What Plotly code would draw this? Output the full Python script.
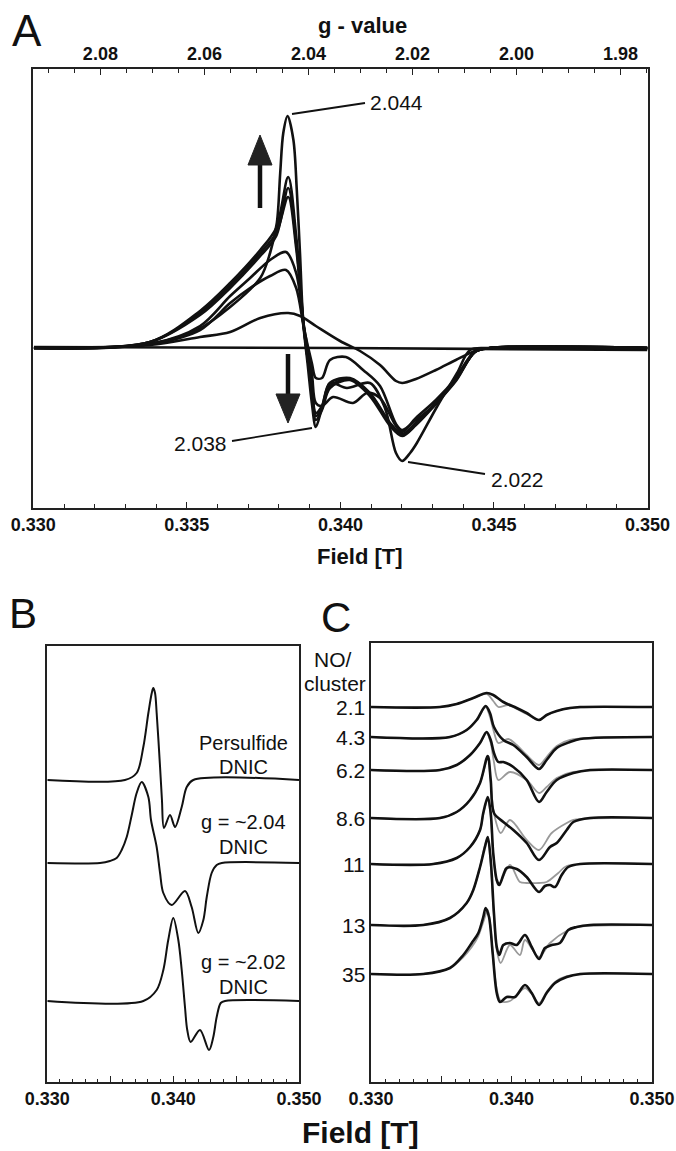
import plotly.graph_objects as go

W, H = 676, 1151
FONT = "Liberation Sans, Arial, Helvetica, sans-serif"

# ---------------- Panel A: spectra (field in T, intensity in arbitrary units) -------------
A_FLAT_FIELD = [0.33002, 0.34000, 0.35000]
A_FLAT_INT = [1, 0, -2]

A_WEAK_FIELD = [0.33002, 0.33380, 0.33543, 0.33641, 0.33739, 0.33830, 0.33869, 0.33920, 0.33999,
                0.34064, 0.34129, 0.34181, 0.34201, 0.34246, 0.34311, 0.34376, 0.34438, 0.34487, 0.35000]
A_WEAK_INT = [0, 3, 11, 16, 30, 35, 32, 22, 7, -3, -17, -33, -35, -31, -22, -12, -3, 0, 0]

A_LOW_FIELD = [0.33002, 0.33380, 0.33543, 0.33641, 0.33706, 0.33771, 0.33823, 0.33856, 0.33881, 0.33907,
               0.33920, 0.33940, 0.33966, 0.34018, 0.34074, 0.34129, 0.34181, 0.34201, 0.34246, 0.34311,
               0.34376, 0.34438, 0.34487, 0.35000]
A_LOW_INT = [0, 4, 18, 45, 60, 72, 78, 60, 20, -15, -30, -30, -12, -9, -22, -38, -76, -82, -72, -56,
             -30, -3, 0, 0]

A_LOW2_FIELD = [0.33002, 0.33380, 0.33543, 0.33641, 0.33706, 0.33771, 0.33823, 0.33856, 0.33881, 0.33907,
                0.33920, 0.33940, 0.33976, 0.34041, 0.34087, 0.34129, 0.34181, 0.34201, 0.34246, 0.34311,
                0.34376, 0.34438, 0.34487, 0.35000]
A_LOW2_INT = [0, 4, 22, 52, 70, 88, 96, 75, 22, -25, -55, -58, -49, -55, -45, -50, -78, -84, -70, -52,
              -30, -4, 0, 0]

A_MID_FIELD = [0.33002, 0.33380, 0.33543, 0.33641, 0.33739, 0.33791, 0.33830, 0.33856, 0.33881, 0.33907,
               0.33920, 0.33940, 0.33966, 0.34031, 0.34096, 0.34162, 0.34201, 0.34246, 0.34311, 0.34376,
               0.34438, 0.34487, 0.35000]
A_MID1_INT = [0, 6, 35, 62, 95, 115, 151, 100, 20, -40, -65, -58, -35, -30, -45, -75, -86, -75, -55, -32, -4, 0, 0]
A_MID2_INT = [0, 6, 37, 65, 98, 120, 171, 112, 22, -42, -72, -62, -40, -32, -48, -78, -88, -77, -56, -33, -4, 0, 0]
A_MID3_INT = [0, 6, 33, 60, 92, 112, 160, 105, 20, -40, -68, -60, -38, -31, -46, -76, -87, -76, -55, -32, -4, 0, 0]

A_TALL_FIELD = [0.33002, 0.33380, 0.33533, 0.33641, 0.33739, 0.33771, 0.33793, 0.33804, 0.33814, 0.33828,
                0.33847, 0.33858, 0.33869, 0.33879, 0.33894, 0.33907, 0.33920, 0.33940, 0.33966, 0.34021,
                0.34096, 0.34145, 0.34181, 0.34201, 0.34227, 0.34249, 0.34314, 0.34380, 0.34422, 0.34487,
                0.35000]
A_TALL_INT = [0, 4, 18, 41, 70, 95, 125, 175, 215, 232, 208, 158, 91, 25, -18, -55, -79, -60, -35, -40,
              -35, -60, -105, -113, -105, -95, -59, -25, -2, 0, 0]

G_TICKS = [2.08, 2.06, 2.04, 2.02, 2.00, 1.98]
A_PEAK_LABELS = ["2.044", "2.038", "2.022"]

# ---------------- Panel B: simulated DNIC spectra -------------
B_NAMES = [["Persulfide", "DNIC"], ["g = ~2.04", "DNIC"], ["g = ~2.02", "DNIC"]]
B_OFFSETS = [302, 219, 81]
B_PERS_FIELD = [0.330, 0.33617, 0.33710, 0.33763, 0.33803, 0.33830, 0.33842, 0.33856, 0.33869, 0.33896,
                0.33911, 0.33927, 0.33975, 0.34015, 0.34068, 0.34108, 0.34160, 0.350]
B_PERS_INT = [0, 0, 7, 33, 67, 87, 92, 87, 67, 13, -20, -48, -35, -47, -27, -7, 0, 0]
B_G204_FIELD = [0.330, 0.33419, 0.33498, 0.33551, 0.33591, 0.33631, 0.33671, 0.33710, 0.33750, 0.33803,
                0.33824, 0.33869, 0.33896, 0.33922, 0.33988, 0.34094, 0.34147, 0.34200, 0.34240, 0.34267,
                0.34306, 0.34346, 0.34386, 0.350]
B_G204_INT = [0, 0, 2, 5, 13, 26, 48, 70, 81, 66, 43, 16, -10, -30, -42, -28, -44, -70, -57, -34, -10, -2, 0, 0]
B_G202_FIELD = [0.330, 0.33763, 0.33869, 0.33922, 0.33961, 0.34001, 0.34041, 0.34068, 0.34094, 0.34112,
                0.34139, 0.34213, 0.34285, 0.34319, 0.34346, 0.34378, 0.34412, 0.350]
B_G202_INT = [0, 0, 11, 31, 61, 83, 61, 31, -6, -29, -41, -29, -49, -36, -16, -2, 0, 0]

# ---------------- Panel C: NO/cluster titration (black = data, grey = simulation) -------------
C_LABELS = ["2.1", "4.3", "6.2", "8.6", "11", "13", "35"]
C_OFFSETS = [375, 345, 312, 264, 218, 157, 108]

C21_FIELD = [0.330, 0.33491, 0.33610, 0.33728, 0.33823, 0.33870, 0.33942, 0.34037, 0.34108, 0.34196,
             0.34250, 0.34322, 0.34416, 0.34488, 0.350]
C21_INT = [0, 0, 3, 9, 14, 12, 5, -1, -6, -13, -8, -4, -1, 0, 0]
C21_SIM_FIELD = [0.330, 0.33491, 0.33610, 0.33728, 0.33823, 0.33870, 0.33906, 0.33977, 0.34037, 0.34108,
                 0.34196, 0.34250, 0.34322, 0.34416, 0.350]
C21_SIM_INT = [0, 0, 3, 9, 13, 6, 0, 2, -2, -7, -13, -8, -4, -1, 0]

C43_FIELD = [0.330, 0.33562, 0.33681, 0.33752, 0.33816, 0.33847, 0.33875, 0.33942, 0.34013, 0.34108,
             0.34196, 0.34250, 0.34322, 0.34416, 0.34488, 0.350]
C43_INT = [0, 0, 7, 17, 31, 24, 10, -3, -8, -20, -32, -23, -11, -5, -2, 0]
C43_SIM_FIELD = [0.330, 0.33562, 0.33681, 0.33752, 0.33816, 0.33847, 0.33875, 0.33906, 0.33977, 0.34037,
                 0.34108, 0.34196, 0.34250, 0.34322, 0.34416, 0.350]
C43_SIM_INT = [0, 0, 7, 17, 30, 20, 5, -6, -2, -8, -18, -28, -20, -9, -3, 0]

C62_FIELD = [0.330, 0.33491, 0.33610, 0.33705, 0.33776, 0.33823, 0.33852, 0.33875, 0.33906, 0.33942,
             0.34013, 0.34108, 0.34196, 0.34250, 0.34322, 0.34440, 0.34559, 0.350]
C62_INT = [0, 0, 5, 15, 27, 38, 30, 17, 8, 8, 3, -10, -32, -22, -10, -3, 0, 0]
C62_SIM_FIELD = [0.330, 0.33491, 0.33610, 0.33705, 0.33776, 0.33823, 0.33852, 0.33875, 0.33906, 0.33989,
                 0.34108, 0.34196, 0.34250, 0.34322, 0.34440, 0.350]
C62_SIM_INT = [0, 0, 5, 15, 27, 37, 27, 8, -10, -2, -10, -23, -17, -8, -2, 0]

C86_FIELD = [0.330, 0.33491, 0.33610, 0.33705, 0.33776, 0.33831, 0.33852, 0.33875, 0.33942, 0.34013,
             0.34108, 0.34196, 0.34274, 0.34322, 0.34393, 0.34440, 0.34559, 0.350]
C86_INT = [0, 0, 6, 18, 35, 62, 38, 5, -4, -12, -25, -42, -29, -25, -12, -4, 0, 0]
C86_SIM_FIELD = [0.330, 0.33491, 0.33610, 0.33705, 0.33776, 0.33831, 0.33852, 0.33875, 0.33923, 0.33989,
                 0.34108, 0.34196, 0.34286, 0.34393, 0.34440, 0.350]
C86_SIM_INT = [0, 0, 6, 18, 35, 60, 36, 5, -15, -2, -22, -32, -15, -5, -2, 0]

C11_FIELD = [0.330, 0.33443, 0.33610, 0.33705, 0.33776, 0.33799, 0.33831, 0.33852, 0.33870, 0.33895,
             0.33913, 0.33942, 0.33966, 0.34037, 0.34108, 0.34196, 0.34238, 0.34274, 0.34310, 0.34357,
             0.34404, 0.34488, 0.350]
C11_INT = [0, 0, 6, 17, 34, 51, 67, 51, 11, -16, -21, -11, -4, -5, -13, -28, -22, -21, -23, -11, -3, 0, 0]
C11_SIM_FIELD = [0.330, 0.33443, 0.33610, 0.33705, 0.33776, 0.33799, 0.33831, 0.33852, 0.33870, 0.33906,
                 0.33989, 0.34060, 0.34108, 0.34196, 0.34250, 0.34333, 0.34393, 0.350]
C11_SIM_INT = [0, 0, 6, 17, 34, 50, 64, 48, 10, -21, -1, -18, -19, -19, -18, -9, -2, 0]

C13_FIELD = [0.330, 0.33372, 0.33562, 0.33681, 0.33728, 0.33776, 0.33811, 0.33831, 0.33852, 0.33875,
             0.33895, 0.33913, 0.33942, 0.33989, 0.34037, 0.34096, 0.34144, 0.34196, 0.34238, 0.34286,
             0.34345, 0.34404, 0.34464, 0.34559, 0.350]
C13_INT = [0, 0, 7, 22, 35, 58, 78, 88, 65, 12, -22, -30, -20, -18, -20, -10, -22, -34, -23, -20, -18, -5,
           -2, 0, 0]
C13_SIM_FIELD = [0.330, 0.33372, 0.33562, 0.33681, 0.33728, 0.33776, 0.33811, 0.33831, 0.33852, 0.33875,
                 0.33895, 0.33923, 0.33989, 0.34060, 0.34096, 0.34196, 0.34274, 0.34404, 0.34464, 0.350]
C13_SIM_INT = [0, 0, 7, 22, 35, 58, 80, 86, 60, 8, -25, -38, -20, -30, -15, -32, -18, -5, -2, 0]

C35_FIELD = [0.330, 0.33372, 0.33562, 0.33657, 0.33717, 0.33764, 0.33799, 0.33816, 0.33840, 0.33866,
             0.33895, 0.33918, 0.33966, 0.34025, 0.34096, 0.34144, 0.34196, 0.34250, 0.34310, 0.34393,
             0.34488, 0.350]
C35_INT = [0, 0, 6, 19, 31, 41, 57, 66, 57, 21, -19, -28, -23, -23, -11, -19, -31, -19, -9, -3, 0, 0]
C35_SIM_FIELD = [0.330, 0.33372, 0.33562, 0.33657, 0.33717, 0.33764, 0.33799, 0.33831, 0.33852, 0.33870,
                 0.33895, 0.33923, 0.33989, 0.34096, 0.34144, 0.34196, 0.34250, 0.34310, 0.34393, 0.350]
C35_SIM_INT = [0, 0, 6, 17, 27, 38, 52, 64, 45, 15, -15, -27, -27, -14, -20, -29, -18, -8, -2, 0]

# ---------------------------------------------------------------------------------------
def px(x):
    return x / W


def py(y):
    return 1 - y / H


fig = go.Figure()
SPL = dict(shape="spline", smoothing=0.9)

a_sets = [(A_FLAT_FIELD, A_FLAT_INT), (A_WEAK_FIELD, A_WEAK_INT), (A_LOW_FIELD, A_LOW_INT),
          (A_LOW2_FIELD, A_LOW2_INT), (A_MID_FIELD, A_MID1_INT), (A_MID_FIELD, A_MID2_INT),
          (A_MID_FIELD, A_MID3_INT), (A_TALL_FIELD, A_TALL_INT)]
for fx, iy in a_sets:
    fig.add_trace(go.Scatter(x=fx, y=iy, mode="lines", xaxis="x", yaxis="y",
                             line=dict(color="#111", width=2.6, **SPL), hoverinfo="skip"))
# invisible carrier for the g-value axis
fig.add_trace(go.Scatter(x=[G_TICKS[0]], y=[0], mode="markers", xaxis="x2", yaxis="y",
                         marker=dict(opacity=0), hoverinfo="skip"))

b_sets = [(B_PERS_FIELD, B_PERS_INT), (B_G204_FIELD, B_G204_INT), (B_G202_FIELD, B_G202_INT)]
for (fx, iy), off in zip(b_sets, B_OFFSETS):
    fig.add_trace(go.Scatter(x=fx, y=[v + off for v in iy], mode="lines", xaxis="x3", yaxis="y3",
                             line=dict(color="#111", width=2, **SPL), hoverinfo="skip"))

c_black = [(C21_FIELD, C21_INT), (C43_FIELD, C43_INT), (C62_FIELD, C62_INT), (C86_FIELD, C86_INT),
           (C11_FIELD, C11_INT), (C13_FIELD, C13_INT), (C35_FIELD, C35_INT)]
c_grey = [(C21_SIM_FIELD, C21_SIM_INT), (C43_SIM_FIELD, C43_SIM_INT), (C62_SIM_FIELD, C62_SIM_INT),
          (C86_SIM_FIELD, C86_SIM_INT), (C11_SIM_FIELD, C11_SIM_INT), (C13_SIM_FIELD, C13_SIM_INT),
          (C35_SIM_FIELD, C35_SIM_INT)]
for (fx, iy), off in zip(c_grey, C_OFFSETS):
    fig.add_trace(go.Scatter(x=fx, y=[v + off for v in iy], mode="lines", xaxis="x4", yaxis="y4",
                             line=dict(color="#9a9a9a", width=1.8, **SPL), hoverinfo="skip"))
for (fx, iy), off in zip(c_black, C_OFFSETS):
    fig.add_trace(go.Scatter(x=fx, y=[v + off for v in iy], mode="lines", xaxis="x4", yaxis="y4",
                             line=dict(color="#111", width=2.6, **SPL), hoverinfo="skip"))

TICKFONT = dict(family=FONT, size=18, color="#111", weight="bold")
FRAME = "#222"

common_x = dict(showgrid=False, zeroline=False, showline=True, linecolor=FRAME, linewidth=1.5,
                ticks="inside", tickcolor=FRAME, tickwidth=1.3, tickfont=TICKFONT, automargin=False)
common_y = dict(showgrid=False, zeroline=False, showline=True, linecolor=FRAME, linewidth=1.5,
                mirror=True, ticks="", showticklabels=False, automargin=False)

fig.update_layout(
    template="none",
    width=W, height=H, margin=dict(l=0, r=0, t=0, b=0, pad=0), autosize=False,
    paper_bgcolor="white", plot_bgcolor="white", showlegend=False,
    font=dict(family=FONT, color="#111"),
    xaxis=dict(domain=[px(33.3), px(647.5)], range=[0.330, 0.350], anchor="y",
               tickmode="linear", tick0=0.330, dtick=0.005, tickformat=".3f", ticklen=6,
               minor=dict(dtick=0.001, tick0=0.330, ticklen=4, ticks="inside", tickcolor=FRAME,
                          showgrid=False),
               **common_x),
    xaxis2=dict(overlaying="x", side="top", anchor="y", range=[2.0929, 1.9748],
                tickmode="linear", tick0=2.0, dtick=0.02, tickformat=".2f", ticklen=6,
                minor=dict(dtick=0.005, tick0=2.0, ticklen=3.5, ticks="inside", tickcolor=FRAME,
                           showgrid=False),
                **common_x),
    yaxis=dict(domain=[py(507.7), py(69.3)], range=[-159.7, 278.7], anchor="x", **common_y),
    xaxis3=dict(domain=[px(47.3), px(299)], range=[0.330, 0.350], anchor="y3", mirror=True,
                tickmode="array", tickvals=[0.330, 0.335, 0.340, 0.345, 0.350],
                ticktext=["0.330", "", "0.340", "", "0.350"], ticklen=6,
                minor=dict(tickmode="linear", dtick=0.001, tick0=0.330, ticklen=3.5, ticks="inside",
                           tickcolor=FRAME, showgrid=False),
                **common_x),
    yaxis3=dict(domain=[py(1082), py(646)], range=[0, 436], anchor="x3", **common_y),
    xaxis4=dict(domain=[px(371), px(652)], range=[0.330, 0.350], anchor="y4", mirror=True,
                tickmode="array", tickvals=[0.330, 0.335, 0.340, 0.345, 0.350],
                ticktext=["0.330", "", "0.340", "", "0.350"], ticklen=6,
                minor=dict(tickmode="linear", dtick=0.001, tick0=0.330, ticklen=3.5, ticks="inside",
                           tickcolor=FRAME, showgrid=False),
                **common_x),
    yaxis4=dict(domain=[py(1082), py(643)], range=[0, 439], anchor="x4", **common_y),
)

ann = []


def text(s, x, y, size, bold=False, xanchor="center", color="#111"):
    ann.append(dict(text=s, x=px(x), y=py(y), xref="paper", yref="paper", showarrow=False,
                    xanchor=xanchor, yanchor="middle",
                    font=dict(family=FONT, size=size, color=color, weight="bold" if bold else "normal")))


text("A", 27, 30, 44)
text("B", 23, 613, 42)
text("C", 336, 617, 42)
text("g - value", 362, 26, 22, bold=True)
text("Field [T]", 360, 556, 22, bold=True)
text("Field [T]", 360, 1132, 30, bold=True)

text(A_PEAK_LABELS[0], 368, 103, 21, xanchor="left")
text(A_PEAK_LABELS[1], 229, 443, 21, xanchor="right")
text(A_PEAK_LABELS[2], 489, 480, 21, xanchor="left")

b_text_y = [(743, 767), (822, 847), (962, 987)]
for (l1, l2), (y1, y2) in zip(B_NAMES, b_text_y):
    text(l1, 243, y1, 20)
    text(l2, 243, y2, 20)

text("NO/", 333, 660, 21)
text("cluster", 335, 683, 21)
for lab, off in zip(C_LABELS, C_OFFSETS):
    ann.append(dict(text=lab, x=px(367), y=off, xref="paper", yref="y4", showarrow=False,
                    xanchor="right", yanchor="middle", font=dict(family=FONT, size=21, color="#111")))

fig.update_layout(annotations=ann)

shapes = []


def seg(x0, y0, x1, y1, w=1.8):
    shapes.append(dict(type="line", xref="paper", yref="paper", x0=px(x0), y0=py(y0), x1=px(x1), y1=py(y1),
                       line=dict(color="#111", width=w)))


def tri(pts):
    path = "M " + " L ".join(f"{px(a):.5f},{py(b):.5f}" for a, b in pts) + " Z"
    shapes.append(dict(type="path", xref="paper", yref="paper", path=path,
                       fillcolor="#222", line=dict(color="#222", width=1)))


# leader lines
seg(292, 114, 365, 103)
seg(232, 441, 312, 428)
seg(408, 462, 485, 474)
# arrows
seg(260, 208, 260, 160, w=4.5)
tri([(248, 165), (272, 165), (260, 135)])
seg(288, 354, 288, 398, w=4.5)
tri([(276, 394), (300, 394), (288, 423)])

fig.update_layout(shapes=shapes)

fig.write_html("out.html", include_plotlyjs=True, config={"displayModeBar": False},
               post_script="document.body.style.margin='0px';")
